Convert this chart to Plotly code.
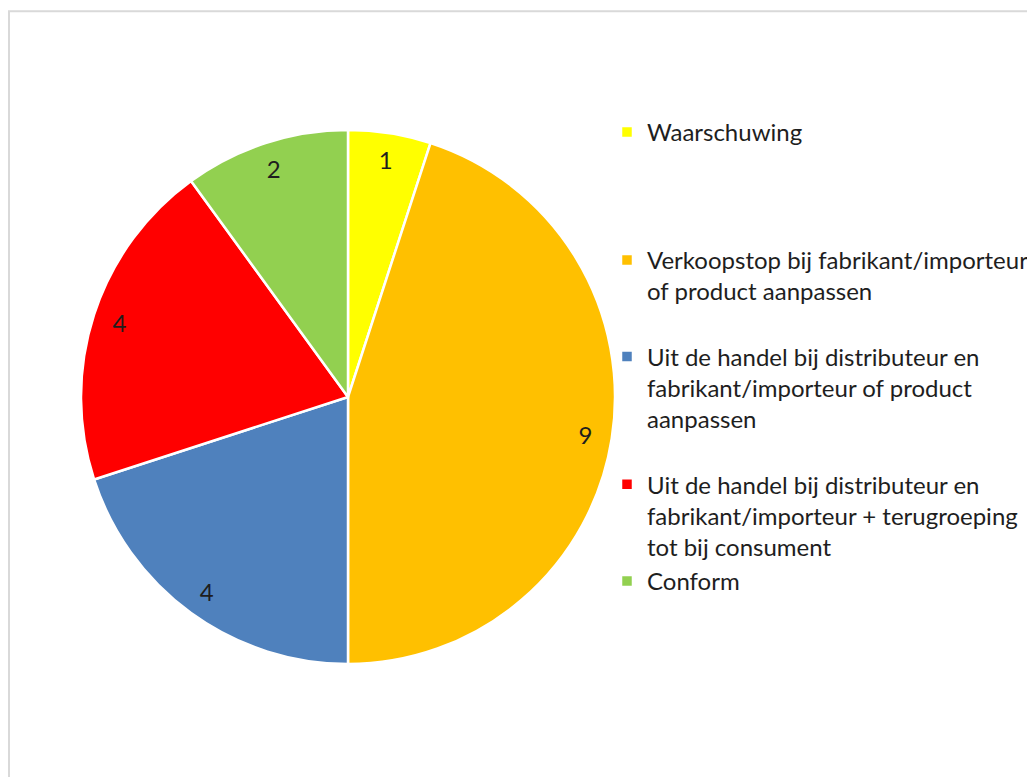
import plotly.graph_objects as go

# ---- data ----
categories = [
    "Waarschuwing",
    "Verkoopstop bij fabrikant/importeur<br>of product aanpassen",
    "Uit de handel bij distributeur en<br>fabrikant/importeur of product<br>aanpassen",
    "Uit de handel bij distributeur en<br>fabrikant/importeur + terugroeping<br>tot bij consument",
    "Conform",
]
values = [1, 9, 4, 4, 2]
colors = ["#FFFF00", "#FFC000", "#4F81BD", "#FF0000", "#92D050"]

FONT = "Lato, 'Open Sans', sans-serif"
TEXT_COLOR = "#1E1E1E"
FS = 24

# pad legend entries so the entries are spread like the original legend slots
slot_lines = [4, 3, 4, 3, 1]

def pad(label, n):
    k = label.count("<br>") + 1
    return label + "<br>\u00a0" * max(0, n - k)

legend_labels = [pad(c, n) for c, n in zip(categories, slot_lines)]

W, H = 1035, 777
cx, cy, R = 340, 389, 267
dom_x = [(cx - R) / W, (cx + R) / W]
dom_y = [1 - (cy + R) / H, 1 - (cy - R) / H]

fig = go.Figure()

# slices + legend
fig.add_trace(go.Pie(
    labels=legend_labels,
    values=values,
    sort=False,
    direction="clockwise",
    rotation=0,
    marker=dict(colors=colors, line=dict(color="white", width=2.5)),
    textinfo="none",
    hoverinfo="label+value",
    domain=dict(x=dom_x, y=dom_y),
    showlegend=True,
))

# value labels placed near outer edge (ring overlay)
fig.add_trace(go.Pie(
    labels=legend_labels,
    values=values,
    sort=False,
    direction="clockwise",
    rotation=0,
    hole=0.8,
    marker=dict(colors=["rgba(0,0,0,0)"] * len(values), line=dict(width=0)),
    textinfo="value",
    textposition="inside",
    insidetextorientation="horizontal",
    textfont=dict(family=FONT, size=FS, color=TEXT_COLOR),
    hoverinfo="skip",
    domain=dict(x=dom_x, y=dom_y),
    showlegend=False,
))

fig.update_layout(
    width=W,
    height=H,
    margin=dict(l=0, r=0, t=0, b=0),
    paper_bgcolor="white",
    plot_bgcolor="white",
    font=dict(family=FONT, size=FS, color=TEXT_COLOR),
    legend=dict(
        x=599 / W,
        xanchor="left",
        y=1 - 102 / H,
        yanchor="top",
        valign="top",
        font=dict(family=FONT, size=FS, color=TEXT_COLOR),
        bgcolor="rgba(0,0,0,0)",
        traceorder="normal",
    ),
    shapes=[dict(
        type="rect", xref="paper", yref="paper",
        x0=1 / W, x1=1.05, y0=-0.05, y1=1 - 3.3 / H,
        line=dict(color="#D9D9D9", width=2),
        fillcolor="rgba(0,0,0,0)",
        layer="below",
    )],
)

fig.write_html("out.html")
